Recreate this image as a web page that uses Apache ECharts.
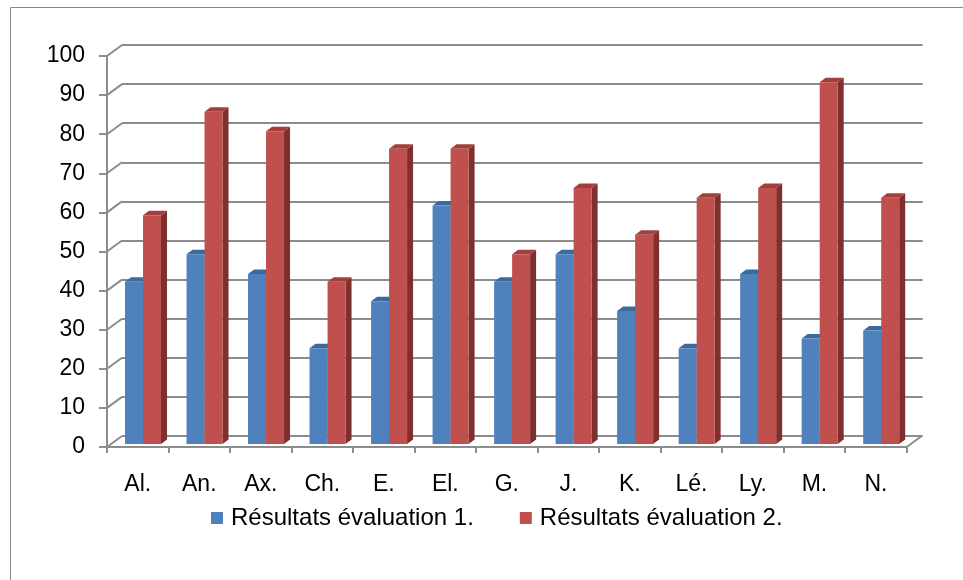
<!DOCTYPE html>
<html>
<head>
<meta charset="utf-8">
<script src="https://cdn.jsdelivr.net/npm/echarts@6/dist/echarts.min.js"></script>
<style>html,body{margin:0;padding:0;background:#fff;}#c{width:963px;height:580px;}</style>
</head>
<body>
<div id="c"></div>
<script>
var categories = ['Al.', 'An.', 'Ax.', 'Ch.', 'E.', 'El.', 'G.', 'J.', 'K.', 'Lé.', 'Ly.', 'M.', 'N.'];
var eval1 = [41.5, 48.5, 43.5, 24.5, 36.5, 61, 41.5, 48.5, 34, 24.5, 43.5, 27, 29];
var eval2 = [58.5, 85, 80, 41.5, 75.5, 75.5, 48.5, 65.5, 53.5, 63, 65.5, 92.5, 63];
var seriesNames = ['Résultats évaluation 1.', 'Résultats évaluation 2.'];
var yTicks = [0, 10, 20, 30, 40, 50, 60, 70, 80, 90, 100];

var FONT = 'Liberation Sans';
var GRID_COLOR = '#8c8c8c';
var WALL_DX = 15, WALL_DY = -11;     // perspective offset of back wall
var BAR_W = 18, BAR_DX = 6, BAR_DY = -4.5, FACE_DX = 5.25, FACE_DY = -3;

var palettes = [
  {front: '#4F81BD', top: '#3C6A9F', side: '#385D8A'},
  {front: '#C0504D', top: '#A23F3C', side: '#7F2F2D'}
];

function barRender(sIdx) {
  return function (params, api) {
    var i = api.value(0), v = api.value(1);
    var c = api.coord([i, v]);
    var b = api.coord([i, 0]);
    var pairCenter = c[0] + FACE_DX;
    var xl = sIdx === 0 ? pairCenter - BAR_W : pairCenter;
    var xr = xl + BAR_W;
    var yt = c[1] + FACE_DY, yb = b[1] + FACE_DY;
    var p = palettes[sIdx];
    return {
      type: 'group',
      children: [
        {type: 'polygon', shape: {points: [[xr, yb], [xr, yt], [xr + BAR_DX, yt + BAR_DY], [xr + BAR_DX, yb + BAR_DY]]}, style: {fill: p.side}},
        {type: 'polygon', shape: {points: [[xl, yt], [xl + BAR_DX, yt + BAR_DY], [xr + BAR_DX, yt + BAR_DY], [xr, yt]]}, style: {fill: p.top}},
        {type: 'rect', shape: {x: xl, y: yt, width: BAR_W, height: yb - yt}, style: {fill: p.front}}
      ]
    };
  };
}

function wallRender(params, api) {
  var v = api.value(1);
  var p = api.coord([0, v]);
  var bw = api.size([1, 0])[0];
  var x0 = p[0] - bw / 2;
  var children = [
    {type: 'line', shape: {x1: x0, y1: p[1], x2: x0 + WALL_DX, y2: p[1] + WALL_DY}, style: {stroke: GRID_COLOR, lineWidth: 2}}
  ];
  if (v === 0) {
    var x1 = x0 + bw * categories.length;
    children.push({type: 'line', shape: {x1: x1, y1: p[1], x2: x1 + WALL_DX, y2: p[1] + WALL_DY}, style: {stroke: GRID_COLOR, lineWidth: 2}});
  }
  return {type: 'group', children: children};
}

var chart = echarts.init(document.getElementById('c'), null, {renderer: 'canvas'});
chart.setOption({
  animation: false,
  backgroundColor: '#ffffff',
  textStyle: {fontFamily: FONT},
  graphic: [{
    type: 'rect', silent: true, z: 100,
    shape: {x: 10.5, y: 7.5, width: 1000, height: 1000},
    style: {fill: 'none', stroke: '#868686', lineWidth: 1}
  }],
  legend: {
    left: 206, top: 501,
    itemWidth: 12, itemHeight: 12, itemGap: 46,
    icon: 'rect',
    textStyle: {fontFamily: FONT, fontSize: 24, color: '#000', padding: [0, 0, 0, 3]},
    data: seriesNames
  },
  grid: [
    {left: 107, right: 56.3, top: 56, bottom: 133},
    {left: 122, right: 40.3, top: 45, bottom: 144}
  ],
  xAxis: [
    {
      type: 'category', gridIndex: 0, data: categories, boundaryGap: true,
      axisLine: {show: true, lineStyle: {color: GRID_COLOR, width: 2}},
      axisTick: {show: true, interval: 0, length: 6, lineStyle: {color: GRID_COLOR, width: 2}},
      axisLabel: {interval: 0, margin: 26, fontFamily: FONT, fontSize: 23, color: '#000'}
    },
    {
      type: 'category', gridIndex: 1, data: categories, show: false
    }
  ],
  yAxis: [
    {
      type: 'value', gridIndex: 0, min: 0, max: 100, interval: 10,
      axisLine: {show: true, lineStyle: {color: GRID_COLOR, width: 2}},
      axisTick: {show: true, length: 8, lineStyle: {color: GRID_COLOR, width: 2}},
      axisLabel: {margin: 22, fontFamily: FONT, fontSize: 23, color: '#000'},
      splitLine: {show: false}
    },
    {
      type: 'value', gridIndex: 1, min: 0, max: 100, interval: 10,
      axisLine: {show: false}, axisTick: {show: false}, axisLabel: {show: false},
      splitLine: {show: true, lineStyle: {color: GRID_COLOR, width: 2}}
    }
  ],
  series: [
    {
      name: 'wall', type: 'custom', xAxisIndex: 0, yAxisIndex: 0, silent: true,
      renderItem: wallRender,
      data: yTicks.map(function (v) { return [0, v]; }),
      z: 1
    },
    {
      name: seriesNames[0], type: 'custom', xAxisIndex: 0, yAxisIndex: 0,
      itemStyle: {color: palettes[0].front},
      renderItem: barRender(0),
      data: eval1.map(function (v, i) { return [i, v]; }),
      z: 3
    },
    {
      name: seriesNames[1], type: 'custom', xAxisIndex: 0, yAxisIndex: 0,
      itemStyle: {color: palettes[1].front},
      renderItem: barRender(1),
      data: eval2.map(function (v, i) { return [i, v]; }),
      z: 4
    }
  ]
});
</script>
</body>
</html>
